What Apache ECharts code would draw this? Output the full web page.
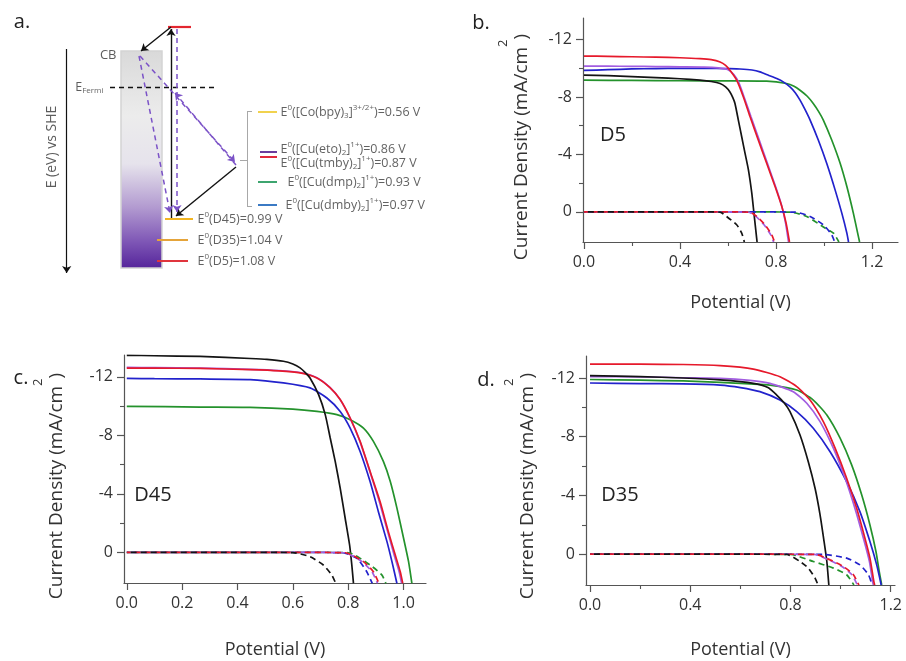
<!DOCTYPE html>
<html><head><meta charset="utf-8">
<script src="https://cdn.jsdelivr.net/npm/echarts@6/dist/echarts.min.js"></script>
<style>html,body{margin:0;padding:0;background:#fff}#c{width:906px;height:661px}</style>
</head><body><div id="c"></div>
<script>
// ---------------- DATA ----------------
// Panel a: energy levels (V vs SHE)
const dyeNames = ['D45', 'D35', 'D5'];
const dyeE0 = [0.99, 1.04, 1.08];
const medComplex = ['Co(bpy)', 'Cu(eto)', 'Cu(tmby)', 'Cu(dmp)', 'Cu(dmby)'];
const medLigandCount = ['3', '2', '2', '2', '2'];
const medCharge = ['3+/2+', '1+', '1+', '1+', '1+'];
const medE0 = [0.56, 0.86, 0.87, 0.93, 0.97];

// Tick labels
const ticksB = [0, 0.4, 0.8, 1.2], minorB = [0.2, 0.6, 1.0];
const ticksC = [0, 0.2, 0.4, 0.6, 0.8, 1.0], minorC = [];
const ticksD = [0, 0.4, 0.8, 1.2], minorD = [0.2, 0.6, 1.0];
const ticksJ = [-12, -8, -4, 0], minorJ = [-10, -6, -2];

// Panel b: D5  [V, J (mA/cm2)]
const d5Black = [[0,-9.52],[0.1,-9.48],[0.2,-9.42],[0.3,-9.35],[0.4,-9.27],[0.483,-9.17],[0.53,-9.08],[0.567,-8.94],[0.59,-8.7],[0.608,-8.35],[0.62,-7.95],[0.629,-7.55],[0.643,-6.39],[0.657,-5.23],[0.671,-4.07],[0.685,-2.92],[0.699,-1.3],[0.708,0.09],[0.717,1.48],[0.721,2.1]];
const d5Red = [[0,-10.85],[0.1,-10.83],[0.2,-10.8],[0.3,-10.77],[0.4,-10.73],[0.483,-10.67],[0.53,-10.6],[0.567,-10.44],[0.59,-10.2],[0.608,-9.86],[0.636,-9.17],[0.664,-8.0],[0.692,-6.62],[0.726,-5.0],[0.761,-3.38],[0.796,-1.76],[0.824,-0.37],[0.842,0.79],[0.856,2.1]];
const d5Purple = [[0,-10.15],[0.1,-10.15],[0.2,-10.13],[0.3,-10.12],[0.4,-10.1],[0.5,-10.08],[0.56,-10.02],[0.6,-9.9],[0.625,-9.55],[0.645,-9.0],[0.668,-7.95],[0.696,-6.6],[0.73,-5.0],[0.764,-3.38],[0.798,-1.76],[0.824,-0.4],[0.84,0.8],[0.852,2.1]];
const d5Blue = [[0,-9.85],[0.1,-9.9],[0.2,-9.95],[0.3,-9.98],[0.4,-9.99],[0.5,-10.0],[0.6,-9.97],[0.65,-9.95],[0.7,-9.88],[0.733,-9.75],[0.77,-9.5],[0.803,-9.28],[0.83,-9.05],[0.858,-8.7],[0.88,-8.3],[0.9,-7.78],[0.92,-7.15],[0.942,-6.39],[0.976,-5.0],[1.011,-3.38],[1.046,-1.53],[1.074,0.09],[1.095,1.48],[1.102,2.1]];
const d5Green = [[0,-9.17],[0.2,-9.15],[0.4,-9.13],[0.6,-9.12],[0.761,-9.1],[0.844,-8.94],[0.875,-8.75],[0.9,-8.47],[0.93,-8.05],[0.955,-7.55],[0.977,-7.0],[0.997,-6.39],[1.032,-5.0],[1.067,-3.38],[1.095,-1.76],[1.122,0.09],[1.14,1.48],[1.148,2.1]];
const d5BlackDark = [[0,0],[0.3,0],[0.5,0],[0.567,0.02],[0.594,0.32],[0.636,0.9],[0.657,1.48],[0.668,2.1]];
const d5RedDark = [[0,0],[0.5,0],[0.69,0.02],[0.72,0.32],[0.754,0.9],[0.782,1.6],[0.794,2.1]];
const d5PurpleDark = [[0,0],[0.5,0],[0.685,0.02],[0.716,0.32],[0.75,0.9],[0.778,1.6],[0.79,2.1]];
const d5BlueDark = [[0,0],[0.6,0],[0.88,0.02],[0.942,0.32],[0.997,0.9],[1.032,1.6],[1.044,2.1]];
const d5GreenDark = [[0,0],[0.6,0],[0.86,0.02],[0.928,0.32],[1.004,1.13],[1.039,1.48],[1.062,2.1]];

// Panel c: D45
const d45Black = [[0,-13.48],[0.1,-13.45],[0.265,-13.4],[0.446,-13.26],[0.506,-13.2],[0.566,-13.07],[0.6,-12.88],[0.626,-12.62],[0.645,-12.3],[0.662,-11.93],[0.693,-10.79],[0.717,-9.42],[0.735,-7.82],[0.753,-6.22],[0.771,-4.39],[0.789,-2.33],[0.805,-0.5],[0.813,0.87],[0.819,2.13]];
const d45Red = [[0,-12.6],[0.1,-12.6],[0.265,-12.58],[0.446,-12.5],[0.55,-12.42],[0.626,-12.28],[0.687,-11.93],[0.735,-11.25],[0.771,-10.45],[0.807,-9.19],[0.843,-7.59],[0.879,-5.53],[0.915,-3.47],[0.945,-1.41],[0.97,0.19],[0.988,1.33],[0.997,2.13]];
const d45Purple = [[0,-12.65],[0.1,-12.64],[0.265,-12.6],[0.446,-12.52],[0.55,-12.44],[0.626,-12.3],[0.687,-11.95],[0.733,-11.3],[0.769,-10.5],[0.805,-9.25],[0.841,-7.65],[0.877,-5.6],[0.912,-3.5],[0.942,-1.45],[0.966,0.19],[0.984,1.33],[0.993,2.13]];
const d45Blue = [[0,-11.9],[0.1,-11.88],[0.265,-11.86],[0.446,-11.82],[0.566,-11.59],[0.662,-11.25],[0.723,-10.56],[0.771,-9.64],[0.807,-8.5],[0.843,-6.9],[0.879,-4.84],[0.909,-2.78],[0.94,-0.73],[0.958,0.64],[0.976,2.13]];
const d45Green = [[0,-9.99],[0.265,-9.94],[0.446,-9.92],[0.6,-9.8],[0.687,-9.64],[0.759,-9.42],[0.807,-9.07],[0.855,-8.5],[0.891,-7.59],[0.927,-6.22],[0.952,-4.84],[0.976,-3.02],[1.0,-0.96],[1.018,0.64],[1.03,2.13]];
const d45BlackDark = [[0,0],[0.4,0],[0.6,0.02],[0.662,0.3],[0.71,0.87],[0.741,1.56],[0.755,2.13]];
const d45RedDark = [[0,0],[0.5,0],[0.79,0.03],[0.855,0.64],[0.891,1.33],[0.911,2.13]];
const d45PurpleDark = [[0,0],[0.5,0],[0.785,0.03],[0.85,0.64],[0.886,1.33],[0.906,2.13]];
const d45BlueDark = [[0,0],[0.5,0],[0.78,0.03],[0.831,0.41],[0.867,1.33],[0.887,2.13]];
const d45GreenDark = [[0,0],[0.5,0],[0.8,0.03],[0.879,0.87],[0.922,1.56],[0.936,2.13]];

// Panel d: D35
const d35Black = [[0,-12.16],[0.2,-12.1],[0.372,-12.0],[0.519,-11.87],[0.652,-11.64],[0.71,-11.35],[0.745,-10.84],[0.775,-10.3],[0.798,-9.71],[0.838,-8.12],[0.871,-6.3],[0.898,-4.49],[0.918,-2.68],[0.934,-0.86],[0.945,0.5],[0.953,2.1]];
const d35Red = [[0,-12.95],[0.2,-12.94],[0.372,-12.92],[0.519,-12.84],[0.652,-12.61],[0.758,-12.09],[0.825,-11.41],[0.878,-10.5],[0.931,-9.03],[0.978,-7.22],[1.024,-5.17],[1.064,-3.13],[1.097,-1.09],[1.117,0.27],[1.133,1.9],[1.136,2.1]];
const d35Purple = [[0,-12.1],[0.2,-12.08],[0.372,-12.02],[0.519,-11.98],[0.638,-11.84],[0.718,-11.64],[0.811,-11.07],[0.865,-10.28],[0.918,-9.03],[0.971,-7.22],[1.018,-5.17],[1.057,-3.13],[1.091,-1.09],[1.115,0.5],[1.128,1.9],[1.131,2.1]];
const d35Blue = [[0,-11.66],[0.2,-11.62],[0.372,-11.6],[0.519,-11.52],[0.6,-11.35],[0.678,-11.07],[0.758,-10.5],[0.825,-9.71],[0.891,-8.58],[0.958,-6.98],[1.024,-4.94],[1.077,-2.9],[1.117,-0.86],[1.144,0.73],[1.162,2.1]];
const d35Green = [[0,-11.9],[0.2,-11.85],[0.372,-11.8],[0.519,-11.7],[0.638,-11.6],[0.718,-11.52],[0.825,-11.18],[0.891,-10.5],[0.945,-9.48],[0.998,-7.9],[1.044,-6.08],[1.084,-4.04],[1.117,-1.99],[1.141,-0.18],[1.154,1.18],[1.164,2.1]];
const d35BlackDark = [[0,0],[0.5,0],[0.785,0.02],[0.838,0.5],[0.871,0.95],[0.898,1.63],[0.91,2.1]];
const d35RedDark = [[0,0],[0.6,0],[0.9,0.02],[0.958,0.39],[1.011,0.84],[1.051,1.4],[1.073,2.1]];
const d35PurpleDark = [[0,0],[0.6,0],[0.895,0.02],[0.952,0.39],[1.005,0.84],[1.045,1.4],[1.067,2.1]];
const d35BlueDark = [[0,0],[0.6,0],[0.93,0.02],[1.024,0.27],[1.077,0.73],[1.111,1.4],[1.126,2.1]];
const d35GreenDark = [[0,0],[0.5,0],[0.8,0.02],[0.891,0.5],[0.971,0.95],[1.024,1.4],[1.053,2.1]];

// ---------------- STYLE / LAYOUT ----------------
const FONT = "'Open Sans', 'DejaVu Sans', sans-serif";
const TXT = '#333';
const C = {black:'#141414', red:'#e6192b', purple:'#a25de0', blue:'#2222cc', green:'#24922c'};
const AX = '#555';

// schematic layout (diagram units of the hidden panel-a grid)
const dyeRowY = [219, 240, 261], dyeRowX = [[165,193],[157,188],[157,188]];
const dyeColors = ['#f2b521', '#e5a43a', '#e0353d'];
const medRowY = [112, 152, 157, 182, 205], medLabelY = [112, 149, 163, 182, 205], medLabelX = [280, 280, 280, 287, 285];
const medColors = ['#f1d24e', '#6a3d9e', '#e12a3c', '#3da56f', '#3b7ac4'];

const RICH_A = {
  b: {fontSize: 12.5, color: '#3a3a3a', fontFamily: FONT, lineHeight: 16, verticalAlign: 'middle'},
  p: {fontSize: 8, color: '#3a3a3a', fontFamily: FONT, lineHeight: 8, verticalAlign: 'top'},
  d: {fontSize: 8, color: '#3a3a3a', fontFamily: FONT, lineHeight: 8, verticalAlign: 'bottom'},
  e: {fontSize: 12.5, color: '#333', fontFamily: FONT, lineHeight: 16, verticalAlign: 'middle'},
  r: {fontSize: 13, color: '#333', fontFamily: FONT, lineHeight: 16, verticalAlign: 'middle'},
  v: {fontSize: 14, color: '#333', fontFamily: FONT, lineHeight: 16, verticalAlign: 'middle'}
};

const medLabel = i => `{b|E}{p|0}{b|([${medComplex[i]}}{d|${medLigandCount[i]}}{b|]}{p|${medCharge[i]}}{b|)=${medE0[i].toFixed(2)} V}`;
const dyeLabel = i => `{b|E}{p|0}{b|(${dyeNames[i]})=${dyeE0[i].toFixed(2)} V}`;

// ---------------- AXES ----------------
const grids = [
  {left: 0, top: 0, width: 300, height: 290, outerBoundsMode: 'none'},
  {left: 583, top: 18, width: 315, height: 224, outerBoundsMode: 'none'},
  {left: 124, top: 355, width: 302, height: 228, outerBoundsMode: 'none'},
  {left: 586, top: 356, width: 309, height: 229, outerBoundsMode: 'none'}
];
const xAxes = [{type: 'value', gridIndex: 0, min: 0, max: 300, show: false}];
const yAxes = [{type: 'value', gridIndex: 0, min: 0, max: 290, inverse: true, show: false}];

function addPanelAxes(gi, xmin, xmax, ticks, minors, nameGap) {
  xAxes.push({
    type: 'value', gridIndex: gi, min: xmin, max: xmax, position: 'bottom',
    axisLine: {show: true, onZero: false, lineStyle: {color: AX, width: 1.2}},
    axisTick: {show: true, customValues: ticks, length: 7, lineStyle: {color: AX, width: 1.2}},
    axisLabel: {show: true, customValues: ticks, formatter: v => Number(v).toFixed(1), margin: 12, fontSize: 16, color: TXT, fontFamily: FONT},
    splitLine: {show: false},
    name: 'Potential (V)', nameLocation: 'middle', nameGap: nameGap,
    nameTextStyle: {fontSize: 18, color: TXT, fontFamily: FONT}
  });
  xAxes.push({
    type: 'value', gridIndex: gi, min: xmin, max: xmax, position: 'bottom',
    axisLine: {show: false, onZero: false}, axisLabel: {show: false}, splitLine: {show: false},
    axisTick: {show: minors.length > 0, customValues: minors, length: 4, lineStyle: {color: AX, width: 1.1}}
  });
  yAxes.push({
    type: 'value', gridIndex: gi, min: -13.5, max: 2.1, inverse: true, position: 'left',
    axisLine: {show: true, onZero: false, lineStyle: {color: AX, width: 1.2}},
    axisTick: {show: true, customValues: ticksJ, length: 7, lineStyle: {color: AX, width: 1.2}},
    axisLabel: {show: true, customValues: ticksJ, formatter: v => String(v), margin: 11, fontSize: 16, color: TXT, fontFamily: FONT},
    splitLine: {show: false}
  });
  yAxes.push({
    type: 'value', gridIndex: gi, min: -13.5, max: 2.1, inverse: true, position: 'left',
    axisLine: {show: false, onZero: false}, axisLabel: {show: false}, splitLine: {show: false},
    axisTick: {show: true, customValues: minorJ, length: 4, lineStyle: {color: AX, width: 1.1}}
  });
  return xAxes.length - 2;
}
const axB = addPanelAxes(1, -0.004, 1.308, ticksB, minorB, 52);
const axC = addPanelAxes(2, -0.01, 1.081, ticksC, minorC, 58);
const axD = addPanelAxes(3, -0.016, 1.217, ticksD, minorD, 56);

// ---------------- SERIES ----------------
function jv(data, color, ai, dashed, k) {
  return {
    type: 'line', xAxisIndex: ai, yAxisIndex: ai, data: data, symbol: 'none', showSymbol: false,
    smooth: 0.2, silent: true, animation: false, clip: true, z: dashed ? 3 : 2,
    lineStyle: {color: color, width: 1.7, type: dashed ? [6, 4] : 'solid', dashOffset: dashed ? k * 4 : 0}
  };
}
const series = [];
[[axB, [d5Green, d5Blue, d5Purple, d5Red, d5Black], [d5GreenDark, d5BlueDark, d5PurpleDark, d5RedDark, d5BlackDark]],
 [axC, [d45Green, d45Blue, d45Purple, d45Red, d45Black], [d45GreenDark, d45BlueDark, d45PurpleDark, d45RedDark, d45BlackDark]],
 [axD, [d35Green, d35Blue, d35Purple, d35Red, d35Black], [d35GreenDark, d35BlueDark, d35PurpleDark, d35RedDark, d35BlackDark]]
].forEach(([ai, light, dark]) => {
  const cols = [C.green, C.blue, C.purple, C.red, C.black];
  light.forEach((d, i) => series.push(jv(d, cols[i], ai, false, i)));
  dark.forEach((d, i) => series.push(jv(d, cols[i], ai, true, i)));
});

// Panel a: semiconductor band (gradient bar)
series.push({
  type: 'custom', coordinateSystem: 'cartesian2d', xAxisIndex: 0, yAxisIndex: 0, silent: true, animation: false,
  data: [[121, 51, 162, 268]], encode: {x: [0, 2], y: [1, 3]},
  renderItem: (params, api) => {
    const p1 = api.coord([api.value(0), api.value(1)]);
    const p2 = api.coord([api.value(2), api.value(3)]);
    return {type: 'rect', shape: {x: p1[0], y: p1[1], width: p2[0] - p1[0], height: p2[1] - p1[1]},
      style: {fill: new echarts.graphic.LinearGradient(0, 0, 0, 1, [
        {offset: 0, color: '#d9d9d9'}, {offset: 0.3, color: '#ececec'}, {offset: 0.52, color: '#e6e3ec'},
        {offset: 0.72, color: '#b29ad0'}, {offset: 0.88, color: '#7d55b5'}, {offset: 1, color: '#55249a'}]),
        stroke: '#d4d4d4', lineWidth: 1.5}};
  }
});

// level lines
const levelData = [{coords: [[168, 27], [191, 27]], lineStyle: {color: '#e3262f', width: 2.2}}];
dyeNames.forEach((n, i) => levelData.push({coords: [[dyeRowX[i][0], dyeRowY[i]], [dyeRowX[i][1], dyeRowY[i]]], lineStyle: {color: dyeColors[i], width: 2}}));
medE0.forEach((e, i) => levelData.push({coords: [[i === 1 || i === 2 ? 260 : 258, medRowY[i]], [277, medRowY[i]]], lineStyle: {color: medColors[i], width: 2}}));
[[[247, 111], [247, 206]], [[247, 111], [252, 111]], [[247, 206], [252, 206]], [[240, 160], [247, 160]]]
  .forEach(c => levelData.push({coords: c, lineStyle: {color: '#a8a8a8', width: 1}}));
levelData.push({coords: [[110, 87], [218, 87]], lineStyle: {color: '#111', width: 1.4, type: [5, 4]}});
series.push({type: 'lines', coordinateSystem: 'cartesian2d', xAxisIndex: 0, yAxisIndex: 0, silent: true, animation: false,
  symbol: 'none', data: levelData, lineStyle: {opacity: 1, curveness: 0}});

// arrows
const arrowData = [
  {coords: [[66.7, 49], [66.7, 273]], lineStyle: {color: '#111', width: 1.2}},
  {coords: [[171, 218], [171, 29]], lineStyle: {color: '#111', width: 1.4}},
  {coords: [[171, 27], [141, 51]], lineStyle: {color: '#111', width: 1.4}},
  {coords: [[236, 167], [176, 216]], lineStyle: {color: '#111', width: 1.4}},
  {coords: [[177, 29], [177, 212]], lineStyle: {color: '#7b52c7', width: 1.5, type: [5, 4]}},
  {coords: [[139, 56], [170, 213]], lineStyle: {color: '#7b52c7', width: 1.5, type: [5, 4]}},
  {coords: [[140, 56], [235, 162]], lineStyle: {color: '#7b52c7', width: 1.5, type: [5, 4]}},
  {coords: [[236, 165], [175, 93]], lineStyle: {color: '#7b52c7', width: 1.5, type: [5, 4]}}
];
series.push({type: 'lines', coordinateSystem: 'cartesian2d', xAxisIndex: 0, yAxisIndex: 0, silent: true, animation: false,
  symbol: ['none', 'arrow'], symbolSize: 7, data: arrowData, lineStyle: {opacity: 1, curveness: 0}});

// schematic text labels
const textData = [];
dyeNames.forEach((n, i) => textData.push({value: [197, dyeRowY[i]], label: {position: 'right', formatter: dyeLabel(i)}}));
medE0.forEach((e, i) => textData.push({value: [medLabelX[i], medLabelY[i]], label: {position: 'right', formatter: medLabel(i)}}));
textData.push({value: [117, 55], label: {position: 'left', formatter: '{r|CB}'}});
textData.push({value: [104, 87], label: {position: 'left', formatter: '{e|E}{d|Fermi}'}});
textData.push({value: [52, 147], label: {position: 'inside', rotate: 90, formatter: '{v|E (eV) vs SHE}'}});
series.push({type: 'scatter', xAxisIndex: 0, yAxisIndex: 0, silent: true, animation: false, symbolSize: 1,
  itemStyle: {color: 'rgba(0,0,0,0)'}, data: textData,
  label: {show: true, distance: 0, rich: RICH_A, color: '#333', fontFamily: FONT}});

// ---------------- GRAPHIC TEXT ----------------
const yNameRich = {
  t: {fontSize: 19, fontFamily: FONT, fill: TXT, color: TXT, lineHeight: 34, verticalAlign: 'bottom'},
  s: {fontSize: 13, fontFamily: FONT, fill: TXT, color: TXT, lineHeight: 8, verticalAlign: 'top'}
};
const yName = (x, y) => ({type: 'text', x: x, y: y, rotation: Math.PI / 2, silent: true,
  style: {text: '{t|Current Density (mA/cm}{s|2}{t|)}', rich: yNameRich, align: 'center', verticalAlign: 'middle'}});
const txt = (s, x, y, size) => ({type: 'text', x: x, y: y, silent: true,
  style: {text: s, fontSize: size, fontFamily: FONT, fill: '#222', align: 'center', verticalAlign: 'middle'}});

const graphic = [
  yName(514, 147), yName(49, 486), yName(520, 486),
  txt('a.', 22, 22, 20), txt('b.', 481, 23, 20), txt('c.', 21, 378, 20), txt('d.', 486, 380, 20),
  txt('D5', 613, 135, 20), txt('D45', 153, 495, 20), txt('D35', 620, 495, 20)
];

const chart = echarts.init(document.getElementById('c'), null, {renderer: 'canvas'});
chart.setOption({
  backgroundColor: '#fff', animation: false,
  grid: grids, xAxis: xAxes, yAxis: yAxes, series: series, graphic: graphic
});
</script></body></html>
